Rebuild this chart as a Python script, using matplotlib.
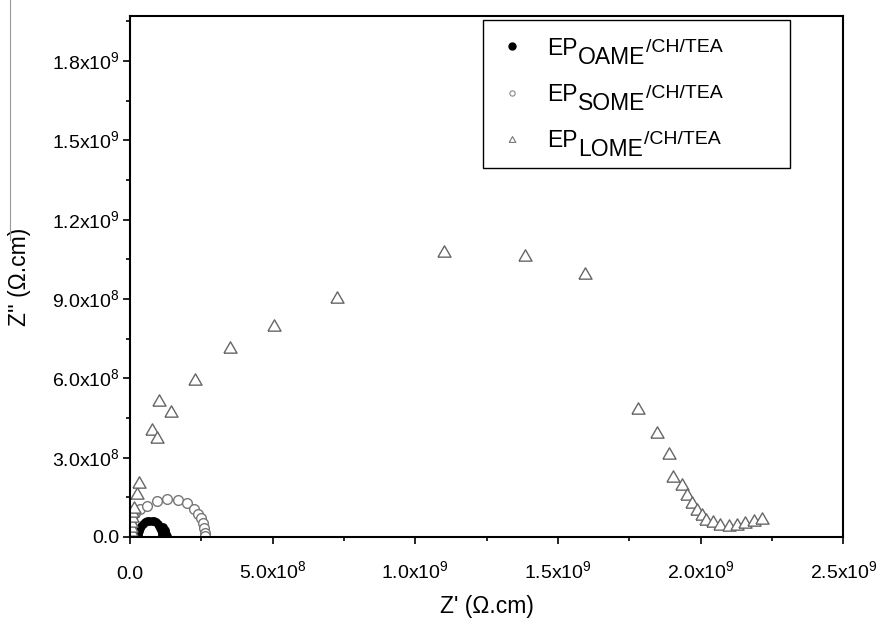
import numpy as np
import matplotlib
matplotlib.use('Agg')
import matplotlib.pyplot as plt
from matplotlib.lines import Line2D
from matplotlib.ticker import MultipleLocator

plt.rcParams['font.family'] = ['Liberation Sans', 'DejaVu Sans']

# Nyquist data, Z' and Z'' in units of 1e8 ohm.cm
oame_re = [0.28, 0.29, 0.31, 0.35, 0.40, 0.46, 0.53, 0.60, 0.68, 0.76, 0.84, 0.91, 0.97,
           1.02, 1.06, 1.09, 1.11, 1.12, 1.13, 1.17, 1.21, 1.24, 1.27, 1.29, 2.63]
oame_im = [0.03, 0.13, 0.23, 0.33, 0.42, 0.50, 0.56, 0.60, 0.62, 0.62, 0.60, 0.56, 0.50,
           0.43, 0.35, 0.27, 0.18, 0.10, 0.03, 0.36, 0.28, 0.19, 0.10, 0.03, 0.10]

some_re = [0.02, 0.03, 0.05, 0.08, 0.18, 0.35, 0.61, 0.95, 1.31, 1.67, 2.00, 2.23, 2.38,
           2.50, 2.57, 2.61, 2.64, 2.63]
some_im = [0.12, 0.30, 0.50, 0.70, 0.90, 1.06, 1.18, 1.36, 1.44, 1.40, 1.27, 1.05, 0.87,
           0.71, 0.52, 0.33, 0.16, 0.04]

lome_re = [0.02, 0.03, 0.04, 0.05, 0.06, 0.08, 0.15, 0.23, 0.30, 0.78, 0.95, 1.01, 1.45,
           2.29, 3.51, 5.06, 7.26, 11.00, 13.85, 15.95, 17.81, 18.46, 18.89, 19.03, 19.35,
           19.52, 19.68, 19.88, 20.04, 20.17, 20.43, 20.67, 20.98, 21.28, 21.55, 21.85, 22.13]
lome_im = [0.10, 0.25, 0.42, 0.60, 0.79, 0.98, 1.15, 1.66, 2.08, 4.08, 3.78, 5.18, 4.77,
           5.96, 7.19, 8.01, 9.08, 10.82, 10.65, 10.00, 4.88, 3.96, 3.17, 2.31, 2.02,
           1.64, 1.31, 1.04, 0.86, 0.68, 0.60, 0.49, 0.45, 0.48, 0.55, 0.63, 0.71]

UNIT = 1e8

x_ticks = [0.0, 5.0e8, 1.0e9, 1.5e9, 2.0e9, 2.5e9]
x_labels = ['0.0', r'5.0x10$^{\mathregular{8}}$', r'1.0x10$^{\mathregular{9}}$',
            r'1.5x10$^{\mathregular{9}}$', r'2.0x10$^{\mathregular{9}}$',
            r'2.5x10$^{\mathregular{9}}$']
y_ticks = [0.0, 3.0e8, 6.0e8, 9.0e8, 1.2e9, 1.5e9, 1.8e9]
y_labels = ['0.0', r'3.0x10$^{\mathregular{8}}$', r'6.0x10$^{\mathregular{8}}$',
            r'9.0x10$^{\mathregular{8}}$', r'1.2x10$^{\mathregular{9}}$',
            r'1.5x10$^{\mathregular{9}}$', r'1.8x10$^{\mathregular{9}}$']

samples = ['OAME', 'SOME', 'LOME']

# equilateral-looking open triangle
TRIANGLE = [(-1, -0.866), (1, -0.866), (0, 0.866), (-1, -0.866)]

fig = plt.figure(figsize=(8.8, 6.21), dpi=100)
ax = fig.add_axes([0.1477, 0.1353, 0.8108, 0.839])

ax.plot(np.array(oame_re) * UNIT, np.array(oame_im) * UNIT, ls='none', marker='o',
        ms=5.4, mfc='black', mec='black', mew=0.8)
ax.plot(np.array(some_re) * UNIT, np.array(some_im) * UNIT, ls='none', marker='o',
        ms=7.0, mfc='white', mec='#777777', mew=1.0)
ax.plot(np.array(lome_re) * UNIT, np.array(lome_im) * UNIT, ls='none', marker=TRIANGLE,
        ms=9.4, mfc='white', mec='#666666', mew=1.0)

ax.set_xlim(0, 2.5e9)
ax.set_ylim(0, 1.97e9)
ax.set_xticks(x_ticks, x_labels)
ax.set_yticks(y_ticks, y_labels)
ax.xaxis.set_minor_locator(MultipleLocator(2.5e8))
ax.yaxis.set_minor_locator(MultipleLocator(1.5e8))
ax.tick_params(which='both', direction='out', top=False, right=False, width=1.2,
               labelsize=14)
ax.tick_params(which='major', length=5)
ax.tick_params(which='minor', length=3)
ax.tick_params(axis='x', pad=25)
ax.tick_params(axis='y', pad=2.5)
for t in ax.xaxis.get_major_ticks():
    t.label1.set_verticalalignment('baseline')
for sp in ax.spines.values():
    sp.set_linewidth(1.5)

ax.set_xlabel("Z' (\u03a9.cm)", fontsize=16.5, labelpad=9)
ax.set_ylabel("Z'' (\u03a9.cm)", fontsize=16.5, labelpad=15)

# legend: small symbols, "EP" + lowered sample name + raised "/CH/TEA"
handles = [
    Line2D([], [], ls='none', marker='o', ms=5, mfc='black', mec='black'),
    Line2D([], [], ls='none', marker='o', ms=3.8, mfc='white', mec='#888888', mew=0.8),
    Line2D([], [], ls='none', marker=TRIANGLE, ms=4.8, mfc='white', mec='#777777', mew=0.8),
]
leg = ax.legend(handles, ['EP'] * len(samples), loc='upper left', mode='expand',
                bbox_to_anchor=(0.4947, 0.6, 0.4303, 0.392), borderaxespad=0,
                fontsize=16.5, fancybox=False, edgecolor='black', framealpha=1,
                borderpad=0.715, handlelength=1.10, handletextpad=0.98,
                labelspacing=1.01, numpoints=1)
leg.get_frame().set_linewidth(1.0)
for ep, s in zip(leg.get_texts(), samples):
    sub = ax.annotate(s, xy=(1, 0), xycoords=ep, xytext=(0.5, -6.5),
                      textcoords='offset points', va='bottom', ha='left',
                      fontsize=16.5, zorder=6)
    ax.annotate('/CH/TEA', xy=(1, 0), xycoords=(sub, ep), xytext=(0.5, 2.5),
                textcoords='offset points', va='bottom', ha='left',
                fontsize=14, zorder=6)

# thin border line at the left edge of the page
fig.add_artist(Line2D([0.0114, 0.0114], [1.0, 0.614], color='#999999', lw=0.8))

fig.savefig('out.png', dpi=100)
